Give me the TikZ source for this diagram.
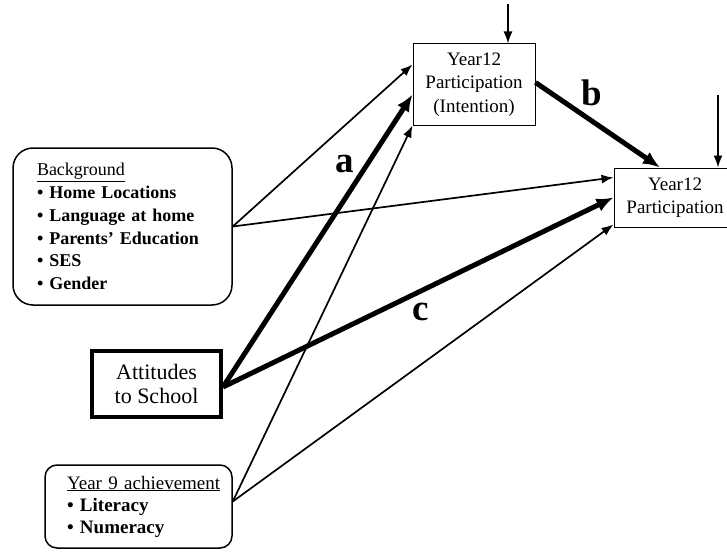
\documentclass[tikz,border=0pt]{standalone}
\usepackage{fontspec}
\setmainfont{Liberation Serif}
\usetikzlibrary{arrows.meta,calc}
\begin{document}
\begin{tikzpicture}[x=1pt,y=-1pt,
 thinarr/.style={line width=1.7pt,-{Latex[length=12pt,width=9pt]}},
 thickarr/.style={line width=5pt,-{Latex[length=17pt,width=14pt]}},
 plainbox/.style={draw,line width=1pt,align=center,inner sep=0pt,font=\fontsize{19}{23.5}\selectfont},
 lab/.style={font=\fontsize{37}{37}\selectfont\bfseries,inner sep=0pt}
]
\useasboundingbox (0,0) rectangle (727,551);
\node[plainbox,minimum width=122pt,minimum height=81pt] (int) at (474,84.5) {Year12\\Participation\\(Intention)};
\node[plainbox,minimum width=122pt,minimum height=59pt] (part) at (675,197.5) {Year12\\Participation};
\node[draw,rounded corners=20pt,line width=1.5pt,minimum width=219pt,minimum height=157pt,text width=171pt,inner xsep=24pt,align=left,font=\fontsize{18}{22.7}\selectfont] (bg) at (122.5,226.5)
 {\underline{Background}\\\textbf{• Home Locations}\\\textbf{• Language at home}\\\textbf{• Parents’ Education}\\\textbf{• SES}\\\textbf{• Gender}};
\node[draw,line width=4pt,minimum width=129pt,minimum height=66pt,align=center,inner sep=0pt,font=\fontsize{22}{24}\selectfont] (att) at (156.5,384) {Attitudes\\to School};
\node[draw,rounded corners=12pt,line width=1.5pt,minimum width=187pt,minimum height=83pt,text width=143pt,inner xsep=22pt,align=left,font=\fontsize{19}{22}\selectfont] (y9) at (138.5,506.5)
 {\underline{Year 9 achievement}\\\textbf{• Literacy}\\\textbf{• Numeracy}};
% start and end points
\coordinate (bgo) at ([yshift=0pt]bg.east);
\coordinate (atto) at ([yshift=-3pt]att.east);
\coordinate (y9o) at ([yshift=5pt]y9.east);
\coordinate (i1) at ([yshift=-21pt]int.north west);
\coordinate (i2) at ([yshift=-51pt]int.north west);
\coordinate (i3) at (int.south west);
\coordinate (p1) at ([yshift=-10pt]part.north west);
\coordinate (p2) at ([yshift=-30pt]part.north west);
\coordinate (p3) at ([yshift=-57pt]part.north west);
\coordinate (bi) at ([yshift=2pt]int.east);
\coordinate (bp) at ([xshift=-15pt]part.north);
\coordinate (t1) at (508,4);
\coordinate (t2) at (718,95);
% connectors
\draw[thinarr] (bgo) -- (i1);
\draw[thinarr] (bgo) -- (p1);
\draw[thickarr] (atto) -- (i2);
\draw[thickarr] (atto) -- (p2);
\draw[thinarr] (y9o) -- (i3);
\draw[thinarr] (y9o) -- (p3);
\draw[thickarr] (bi) -- (bp);
\draw[thinarr] (t1) -- (t1 |- int.north);
\draw[thinarr] (t2) -- (t2 |- part.north);
% labels
\node[lab] (la) at (345,164) {a};
\node[lab] (lb) at (592,93) {b};
\node[lab] (lc) at (421,312) {c};
\end{tikzpicture}
\end{document}
